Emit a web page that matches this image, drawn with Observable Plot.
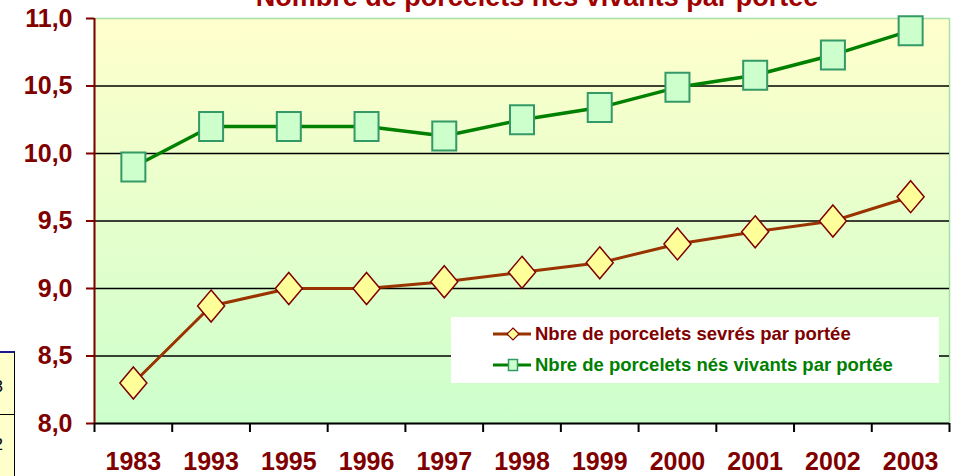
<!DOCTYPE html>
<html><head><meta charset="utf-8">
<script src="https://cdn.jsdelivr.net/npm/d3@7"></script>
<script src="https://cdn.jsdelivr.net/npm/@observablehq/plot@0.6"></script>
<style>
body{margin:0;background:#fff;}
#wrap{position:relative;width:962px;height:476px;overflow:hidden;font-family:"Liberation Sans",Arial,sans-serif;}
#wrap > svg{position:absolute;left:0;top:0;}
#legend{position:absolute;left:451px;top:317px;width:488px;height:66px;background:#fff;}
#legend .row{position:absolute;left:0;width:488px;height:24px;line-height:24px;font-size:18.5px;font-weight:bold;white-space:nowrap;}
#legend .row svg{position:absolute;left:40px;top:4px;}
#legend .row span{position:absolute;left:84px;top:0;}
#frag{position:absolute;left:-60px;top:351px;width:74px;height:130px;background:#ffffcc;border-top:2px solid #1a1a8c;border-right:1.5px solid #000;font-size:17px;color:#000;}
#frag div{position:absolute;right:11px;}
#frag hr{position:absolute;left:0;top:61px;width:100%;margin:0;border:0;border-top:1.5px solid #000;}
</style></head><body>
<div id="wrap">
  <div id="frag"><div style="top:24px">3</div><hr><div style="top:82px">2</div></div>
</div>
<script>
const title = "Nombre de porcelets nés vivants par portée";
const years = ["1983","1993","1995","1996","1997","1998","1999","2000","2001","2002","2003"];
const sevres = [8.30, 8.87, 9.00, 9.00, 9.05, 9.12, 9.19, 9.33, 9.42, 9.50, 9.68];
const vivants = [9.90, 10.20, 10.20, 10.20, 10.13, 10.25, 10.34, 10.49, 10.58, 10.73, 10.91];
const yTicks = [8.0, 8.5, 9.0, 9.5, 10.0, 10.5, 11.0];
const seriesNames = ["Nbre de porcelets sevrés par portée", "Nbre de porcelets nés vivants par portée"];

const data = years.map((year, i) => ({i, year, sevres: sevres[i], vivants: vivants[i]}));
const squareSym = {draw(ctx){ ctx.rect(-12, -14.5, 24, 29); }};
const diamondSym = {draw(ctx){ ctx.moveTo(0,-16); ctx.lineTo(13.5,0); ctx.lineTo(0,16); ctx.lineTo(-13.5,0); ctx.closePath(); }};
const xc = d => d.i + 0.5;

const plot = Plot.plot({
  width: 962, height: 476,
  marginLeft: 94, marginRight: 13, marginTop: 18, marginBottom: 53,
  style: {fontFamily: "Liberation Sans, Arial, sans-serif", background: "transparent"},
  x: {domain: [0, years.length], axis: null},
  y: {domain: [yTicks[0], yTicks[yTicks.length - 1]], axis: null},
  marks: [
    Plot.frame({fill: "url(#bgGrad)", stroke: "#a8dfa8", strokeWidth: 1.5}),
    Plot.gridY(yTicks.slice(1, -1), {stroke: "#000", strokeOpacity: 1, strokeWidth: 1.5}),
    Plot.axisY({ticks: yTicks, tickFormat: d => d.toFixed(1).replace(".", ","), tickSize: 8, tickPadding: 14,
      color: "#800000", strokeWidth: 2, fontSize: 25, fontWeight: "bold"}),
    Plot.axisX({ticks: d3.range(0, years.length + 1), tickFormat: () => "", tickSize: 9, stroke: "#000", strokeWidth: 2}),
    Plot.axisX({ticks: years.map((_, i) => i + 0.5), tickFormat: v => years[Math.floor(v)], tickSize: 0, tickPadding: 29,
      color: "#800000", fontSize: 25, fontWeight: "bold"}),
    Plot.ruleY([yTicks[0]], {stroke: "#000", strokeWidth: 2}),
    Plot.ruleX([0], {stroke: "#800000", strokeWidth: 2}),
    Plot.line(data, {x: xc, y: "sevres", stroke: "#993300", strokeWidth: 3}),
    Plot.dot(data, {x: xc, y: "sevres", symbol: diamondSym, r: 10, fill: "#ffff99", stroke: "#800000", strokeWidth: 1.5}),
    Plot.line(data, {x: xc, y: "vivants", stroke: "#008000", strokeWidth: 3.5}),
    Plot.dot(data, {x: xc, y: "vivants", symbol: squareSym, r: 10, fill: "#ccffcc", stroke: "#339966", strokeWidth: 2}),
    Plot.text([title], {frameAnchor: "top", dy: -13, dx: 15, lineAnchor: "bottom", fontSize: 27, fontWeight: "bold", fill: "#a00000"})
  ]
});

const defs = d3.select(plot).insert("defs", ":first-child");
const g = defs.append("linearGradient").attr("id", "bgGrad").attr("x1", 0).attr("y1", 0).attr("x2", 0).attr("y2", 1);
g.append("stop").attr("offset", "0%").attr("stop-color", "#ffffcc");
g.append("stop").attr("offset", "100%").attr("stop-color", "#ccffcc");

const wrap = document.getElementById("wrap");
wrap.insertBefore(plot, wrap.firstChild);

// legend
const legend = document.createElement("div");
legend.id = "legend";
const legendStyles = [
  {color: "#993300", text: "#800000", marker: "diamond", fill: "#ffff99", stroke: "#800000"},
  {color: "#008000", text: "#008000", marker: "square", fill: "#ccffcc", stroke: "#339966"}
];
seriesNames.forEach((name, k) => {
  const s = legendStyles[k];
  const row = document.createElement("div");
  row.className = "row";
  row.style.top = (5 + k * 31) + "px";
  const mk = s.marker === "diamond"
    ? `<path d="M22,2 L28,8 L22,14 L16,8 Z" fill="${s.fill}" stroke="${s.stroke}" stroke-width="1.2"/>`
    : `<rect x="17.5" y="2.5" width="9" height="11" fill="${s.fill}" stroke="${s.stroke}" stroke-width="1.5"/>`;
  row.innerHTML = `<svg width="42" height="16"><line x1="2" x2="40" y1="8" y2="8" stroke="${s.color}" stroke-width="3"/>${mk}</svg><span style="color:${s.text}">${name}</span>`;
  legend.appendChild(row);
});
wrap.appendChild(legend);
</script>
</body></html>
